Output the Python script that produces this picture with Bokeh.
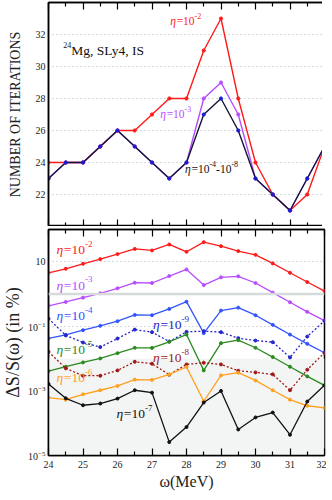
from bokeh.plotting import figure
from bokeh.models import (Label, Span, BoxAnnotation, FixedTicker, LinearAxis, Range1d,
                          CustomJSTickFormatter)
from bokeh.layouts import column
from bokeh.embed import file_html
from bokeh.resources import INLINE

FONT = "Liberation Serif"

omega = [24.0, 24.5, 25.0, 25.5, 26.0, 26.5, 27.0, 27.5, 28.0,
         28.5, 29.0, 29.5, 30.0, 30.5, 31.0, 31.5, 32.0]

# top panel: number of iterations
iter_eta_1e2 = [24, 24, 24, 25, 26, 26, 27, 28, 28, 31, 33, 28, 24, 22, 21, 22, 25]
iter_eta_1e3 = [23, 24, 24, 25, 26, 25, 24, 23, 24, 28, 29, 27, 23, 22, 21, 23, 25]
iter_eta_1e4_1e8 = [23, 24, 24, 25, 26, 25, 24, 23, 24, 27, 28, 26, 23, 22, 21, 23, 25]
iter_ticks = [22, 24, 26, 28, 30, 32]

# bottom panel: relative error (in %)
err_eta_1e2 = [4.57, 6.08, 8.67, 12.1, 17.3, 25.1, 22.4, 34.4, 20.4,
               40.6, 30.5, 21.4, 16.4, 8.91, 4.57, 2.36, 1.24]
err_eta_1e3 = [0.430, 0.570, 0.776, 1.057, 1.507, 2.25, 2.20, 3.61, 5.79,
               1.905, 3.30, 3.54, 2.20, 1.109, 0.557, 0.281, 0.151]
err_eta_1e4 = [0.0421, 0.0547, 0.0762, 0.1035, 0.1445, 0.2265, 0.2213, 0.3467, 0.582,
               0.0617, 0.3076, 0.380, 0.2213, 0.1112, 0.0558, 0.0288, 0.0152]
err_eta_1e5 = [0.00414, 0.00562, 0.00764, 0.01014, 0.01479, 0.02168, 0.0215, 0.0333, 0.0558,
               0.00433, 0.0302, 0.0374, 0.0217, 0.0112, 0.00562, 0.00282, 0.00149]
err_eta_1e6 = [0.000621, 0.000537, 0.000785, 0.00105, 0.001426, 0.00224, 0.00219, 0.00326, 0.0055,
               0.000479, 0.00303, 0.00367, 0.00212, 0.00105, 0.000537, 0.000347, 0.000299]
err_eta_1e7 = [0.00164, 0.000592, 0.00036, 0.000407, 0.000578, 0.00105, 0.000885, 0.000026, 0.000076,
               0.000437, 0.00100, 0.000064, 0.000151, 0.000214, 0.000044, 0.000468, 0.00149]
err_eta_1e8 = [0.01633, 0.00501, 0.00296, 0.00296, 0.00433, 0.00802, 0.00697, 0.00318, 0.00661,
               0.00746, 0.00661, 0.00423, 0.00375, 0.00326, 0.00105, 0.00454, 0.0152]
err_eta_1e9 = [0.174, 0.0525, 0.0316, 0.0228, 0.0421, 0.0794, 0.0661, 0.0339, 0.0676,
               0.0711, 0.0661, 0.0432, 0.0363, 0.0324, 0.0109, 0.0484, 0.148]
err_ticks = [1e-5, 1e-3, 1e-1, 10]

x_major = [24, 25, 26, 27, 28, 29, 30, 31, 32]
x_minor = [24.5, 25.5, 26.5, 27.5, 28.5, 29.5, 30.5, 31.5]

RED = "#ff1a1a"
PURPLE = "#b84dff"
NAVY = "#14143a"
BLUE = "#3355ff"
DBLUE = "#2525cc"
GREEN = "#2a8a1e"
DRED = "#a01818"
ORANGE = "#ffa01e"
BLACK = "#111111"

CHAR_W = {"η": 0.5, "=": 0.564, "-": 0.333, " ": 0.25, "M": 0.889, "g": 0.5,
          ",": 0.25, "S": 0.556, "L": 0.611, "y": 0.5, "I": 0.333}


def text_w(t, fs):
    return sum(CHAR_W.get(c, 0.5) for c in t) * fs


def rich_label(p, x, y, pieces, color, size, sup_size):
    off = 0.0
    for txt, kind in pieces:
        fs = sup_size if kind == "sup" else size
        yo = size * 0.42 if kind == "sup" else 0
        p.add_layout(Label(x=x, y=y, x_offset=off, y_offset=yo, text=txt,
                           text_color=color, text_font=FONT,
                           text_font_size=f"{fs}px",
                           text_font_style="italic" if kind == "it" else "normal",
                           text_baseline="middle", text_align="left"))
        off += text_w(txt, fs) + (0.6 if kind == "it" else 0)


def style_x(ax, show_labels):
    ax.ticker = FixedTicker(ticks=x_major, minor_ticks=x_minor)
    ax.major_tick_in = 7
    ax.major_tick_out = 0
    ax.minor_tick_in = 4
    ax.minor_tick_out = 0
    ax.axis_line_color = "black"
    ax.axis_line_width = 1.5
    ax.major_tick_line_width = 1.2
    ax.minor_tick_line_width = 1.2
    if show_labels:
        ax.major_label_text_font = FONT
        ax.major_label_text_font_size = "10px"
        ax.major_label_text_color = "#222222"
        ax.major_label_standoff = 5
    else:
        ax.formatter = CustomJSTickFormatter(code="return '';")
        ax.major_label_text_font_size = "1px"
        ax.major_label_standoff = 0


def base_fig(y_range, y_type, show_x_labels, fh):
    p = figure(frame_width=276, frame_height=fh, x_range=Range1d(24, 32),
               y_range=y_range, y_axis_type=y_type,
               output_backend="svg", toolbar_location=None,
               min_border_left=40, min_border_right=2,
               background_fill_color="white", border_fill_color="white")
    p.outline_line_color = "black"
    p.outline_line_width = 1.5
    p.outline_line_alpha = 1
    p.xgrid.visible = False
    p.yaxis.major_tick_in = 0
    p.yaxis.major_tick_out = 0
    p.yaxis.minor_tick_in = 0
    p.yaxis.minor_tick_out = 0
    p.yaxis.axis_line_color = "black"
    p.yaxis.axis_line_width = 1.5
    p.yaxis.major_label_text_font = FONT
    p.yaxis.major_label_text_font_size = "10px"
    p.yaxis.major_label_text_color = "#222222"
    p.yaxis.major_label_standoff = 3
    p.yaxis.axis_label_text_font = FONT
    p.yaxis.axis_label_text_font_style = "normal"
    p.yaxis.axis_label_text_color = "#222222"
    style_x(p.below[0], show_x_labels)
    top_axis = LinearAxis()
    style_x(top_axis, False)
    p.add_layout(top_axis, "above")
    return p


# ---------------- top panel ----------------
p1 = base_fig(Range1d(20, 34), "linear", False, 224)
p1.min_border_top = 2
p1.min_border_bottom = 0
p1.yaxis.ticker = FixedTicker(ticks=iter_ticks)
p1.yaxis.axis_label = "NUMBER OF ITERATIONS"
p1.yaxis.axis_label_text_font_size = "14px"
p1.yaxis.axis_label_standoff = 10
p1.ygrid.ticker = FixedTicker(ticks=iter_ticks)
p1.ygrid.grid_line_color = "#aab6be"
p1.ygrid.grid_line_dash = "1 3"
p1.ygrid.grid_line_width = 1

for vals, col, mcol in [(iter_eta_1e2, RED, RED), (iter_eta_1e3, PURPLE, PURPLE),
                        (iter_eta_1e4_1e8, NAVY, "#1a1ad0")]:
    p1.line(omega, vals, line_color=col, line_width=1.4)
    p1.scatter(omega, vals, size=3.2, fill_color=mcol, line_color=mcol)

rich_label(p1, 27.53, 32.86, [("η", "it"), ("=10", "rm"), ("-2", "sup")], RED, 11.5, 8)
rich_label(p1, 27.24, 27.03, [("η", "it"), ("=10", "rm"), ("-3", "sup")], PURPLE, 11.5, 8)
rich_label(p1, 27.96, 23.6, [("η", "it"), ("=10", "rm"), ("-4", "sup"), ("-10", "rm"), ("-8", "sup")],
           BLACK, 11.5, 8)
rich_label(p1, 24.43, 31.02, [("24", "sup"), ("Mg, SLy4, IS", "rm")], BLACK, 13.5, 8)

# ---------------- bottom panel ----------------
p2 = base_fig(Range1d(1e-5, 100), "log", True, 226)
p2.min_border_top = 3
p2.min_border_bottom = 0
xb = p2.below[0]
xb.axis_label = "ω(MeV)"
xb.axis_label_text_font = FONT
xb.axis_label_text_font_size = "16px"
xb.axis_label_text_font_style = "normal"
xb.axis_label_standoff = 2
xb.axis_label_text_color = "#222222"
p2.yaxis.ticker = FixedTicker(ticks=err_ticks)
p2.yaxis.major_label_overrides = {10: "10"}
p2.yaxis.axis_label = "ΔS/S(ω) (in %)"
p2.yaxis.axis_label_text_font_size = "18px"
p2.yaxis.axis_label_standoff = 2
p2.ygrid.ticker = FixedTicker(ticks=[10, 0.1])
p2.ygrid.grid_line_color = "#b0b6b8"
p2.ygrid.grid_line_dash = "1 3"

p2.add_layout(BoxAnnotation(top=0.01, fill_color="#f3f4f4", fill_alpha=1,
                            line_alpha=0, level="underlay"))
p2.add_layout(Span(location=1, dimension="width", line_color="#d6dada", line_width=2.5))

series = [
    (err_eta_1e2, RED, None),
    (err_eta_1e3, PURPLE, None),
    (err_eta_1e4, BLUE, None),
    (err_eta_1e9, DBLUE, "2 2"),
    (err_eta_1e5, GREEN, None),
    (err_eta_1e8, DRED, "2 2"),
    (err_eta_1e6, ORANGE, None),
    (err_eta_1e7, BLACK, None),
]
for vals, col, dash in series:
    if dash:
        p2.line(omega, vals, line_color=col, line_width=1.3, line_dash=dash)
    else:
        p2.line(omega, vals, line_color=col, line_width=1.3)
    p2.scatter(omega, vals, size=3, fill_color=col, line_color=col)

S, SS = 13.5, 9
rich_label(p2, 24.23, 24.5, [("η", "it"), ("=10", "rm"), ("-2", "sup")], RED, S, SS)
rich_label(p2, 24.23, 1.9, [("η", "it"), ("=10", "rm"), ("-3", "sup")], PURPLE, S, SS)
rich_label(p2, 24.23, 0.21, [("η", "it"), ("=10", "rm"), ("-4", "sup")], BLUE, S, SS)
rich_label(p2, 24.23, 0.0188, [("η", "it"), ("=10", "rm"), ("-5", "sup")], GREEN, S, SS)
rich_label(p2, 24.23, 0.00257, [("η", "it"), ("=10", "rm"), ("-6", "sup")], ORANGE, S, SS)
rich_label(p2, 25.97, 0.0002, [("η", "it"), ("=10", "rm"), ("-7", "sup")], BLACK, S, SS)
rich_label(p2, 27.03, 0.111, [("η", "it"), ("=10", "rm"), ("-9", "sup")], DBLUE, S, SS)
rich_label(p2, 27.03, 0.0107, [("η", "it"), ("=10", "rm"), ("-8", "sup")], DRED, S, SS)

layout = column(p1, p2, spacing=0)
open("out.html", "w").write(file_html(layout, INLINE))
